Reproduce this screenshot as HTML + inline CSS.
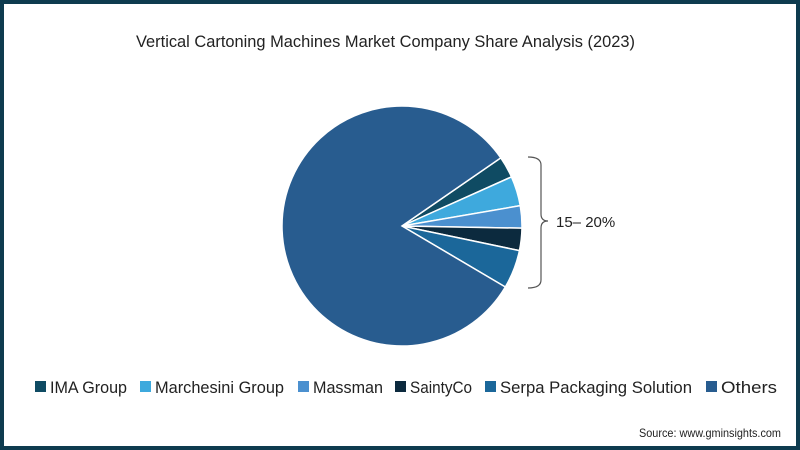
<!DOCTYPE html>
<html><head><meta charset="utf-8"><style>
body{margin:0;background:#fff}
#wrap{position:relative;width:800px;height:450px;box-sizing:border-box;border:4px solid #0e3b4f;background:#fff;font-family:"Liberation Sans Narrow","Liberation Sans",sans-serif;overflow:hidden}
svg{position:absolute;left:-4px;top:-4px}
</style></head><body>
<div id="wrap">
<svg id="chart" width="800" height="450">
<text x="136" y="47" textLength="499" lengthAdjust="spacingAndGlyphs" font-size="17" fill="#222">Vertical Cartoning Machines Market Company Share Analysis (2023)</text>
<g id="slices"></g>
<path d="M528,157 Q541,157 541,165 L541,214 Q541,221 548,221 Q541,221 541,228 L541,280 Q541,288 528,288" fill="none" stroke="#555" stroke-width="1.2"/>
<text x="556" y="227" font-size="15" fill="#222">15– 20%</text>
<g id="legend"></g>
<text x="639" y="437" textLength="142" lengthAdjust="spacingAndGlyphs" font-size="12" fill="#222">Source: www.gminsights.com</text>
</svg>
</div>
<script>
const categories=["IMA Group","Marchesini Group","Massman","SaintyCo","Serpa Packaging Solution","Others"];
const shares=[2.9,4.0,3.0,3.0,5.2,81.9];
const colors=["#0f4b63","#3ea9dd","#4b90cf","#0c2a3e","#1b679a","#285c8f"];
const legendX=[35,140,298,395,485,706];
const legendW=[77,129,70,62,192,56];
const ns="http://www.w3.org/2000/svg";
const cx=402,cy=226,r=120,startDeg=-34.6;
const total=shares.reduce((a,b)=>a+b,0);
const g=document.getElementById('slices');
let a=startDeg*Math.PI/180;
shares.forEach((v,i)=>{
  const span=v/total*2*Math.PI;
  const a2=a+span;
  const x1=cx+r*Math.cos(a),y1=cy+r*Math.sin(a),x2=cx+r*Math.cos(a2),y2=cy+r*Math.sin(a2);
  const p=document.createElementNS(ns,'path');
  p.setAttribute('d',`M${cx},${cy}L${x1},${y1}A${r},${r} 0 ${span>Math.PI?1:0} 1 ${x2},${y2}Z`);
  p.setAttribute('fill',colors[i]);
  p.setAttribute('stroke','#fff');
  p.setAttribute('stroke-width','1.5');
  
  
  g.appendChild(p);
  a=a2;
});
const lg=document.getElementById('legend');
categories.forEach((c,i)=>{
  const item=document.createElementNS(ns,'g');
  
  
  const s=document.createElementNS(ns,'rect');
  s.setAttribute('x',legendX[i]);s.setAttribute('y',381);s.setAttribute('width',11);s.setAttribute('height',11);s.setAttribute('fill',colors[i]);
  
  
  const t=document.createElementNS(ns,'text');
  t.setAttribute('x',legendX[i]+15);t.setAttribute('y',393);t.setAttribute('font-size','17');t.setAttribute('fill','#222');
  t.setAttribute('textLength',legendW[i]);t.setAttribute('lengthAdjust','spacingAndGlyphs');
  t.textContent=c;
  
  
  item.appendChild(s);item.appendChild(t);lg.appendChild(item);
});
</script>
</body></html>
